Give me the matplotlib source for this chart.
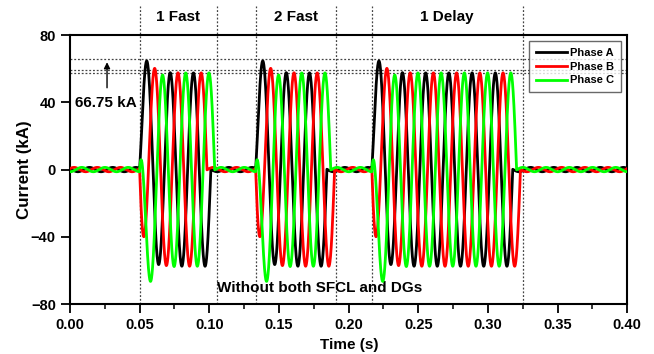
import numpy as np
import matplotlib
matplotlib.use("Agg")
import matplotlib.pyplot as plt

# ---- data ----
phases = ["Phase A", "Phase B", "Phase C"]
phase_colors = ["black", "red", "#00ff00"]
phase_shift_deg = [0, -120, -240]
fault_start = [0.05, 0.1333, 0.2167]          # s
fault_end = [0.1056, 0.1908, 0.325]           # s (dotted boundaries)
window_labels = ["1 Fast", "2 Fast", "1 Delay"]
freq_hz = 60.0
fault_peak_ka = 57.5          # steady fault current peak
first_peak_delay_s = 0.0053   # phase-A peak after inception
dc_decay_s = 0.0043           # DC-offset time constant
load_peak_ka = 1.3            # pre/post-fault load current peak
ref_levels = [65.8, 59.5, 57.5]
peak_text = "66.75 kA"
note_text = "Without both SFCL and DGs"
xticks = [0.00, 0.05, 0.10, 0.15, 0.20, 0.25, 0.30, 0.35, 0.40]
yticks = [-80, -40, 0, 40, 80]

plt.rcParams['font.family'] = ['Liberation Sans', 'DejaVu Sans']
plt.rcParams['font.weight'] = 'bold'

t = np.linspace(0, 0.4, 16001)
w = 2 * np.pi * freq_hz

fig = plt.figure(figsize=(6.54, 3.54), dpi=100)
ax = fig.add_axes([0.107, 0.141, 0.852, 0.760])

for k, (name, col, sh) in enumerate(zip(phases, phase_colors, phase_shift_deg)):
    phi = np.deg2rad(sh)
    i = load_peak_ka * np.cos(w * t + phi + 1.0)
    for t0, t1 in zip(fault_start, fault_end):
        tau = t - t0
        steady = fault_peak_ka * np.cos(w * (tau - first_peak_delay_s) + phi)
        s0 = fault_peak_ka * np.cos(w * (0 - first_peak_delay_s) + phi)
        fc = steady - s0 * np.exp(-np.clip(tau, 0, None) / dc_decay_s)
        m = (t >= t0) & (t <= t1)
        idx = np.where(m)[0]
        seg = fc[idx]
        sc = np.where(np.sign(seg[:-1]) != np.sign(seg[1:]))[0]
        sc = sc[sc > 5]
        end = idx[sc[-1]] if len(sc) else idx[-1]
        i[idx[0]:end + 1] = fc[idx[0]:end + 1]
    ax.plot(t, i, color=col, lw=2.0, label=name, zorder=3 + k)

for y in ref_levels:
    ax.axhline(y, color='#444444', lw=0.9, ls=(0, (1.5, 1.5)), zorder=2)
for x in fault_start + fault_end:
    ax.plot([x, x], [-80, 97], color='#444444', lw=0.9, ls=(0, (1.5, 1.5)),
            clip_on=False, zorder=2)
for lab, a, b in zip(window_labels, fault_start, fault_end):
    ax.text((a + b) / 2, 91, lab, ha='center', va='center', fontsize=11,
            fontweight='bold')

ax.annotate("", xy=(0.0266, 65.5), xytext=(0.0266, 47),
            arrowprops=dict(arrowstyle='-|>', color='black', lw=1,
                            mutation_scale=9))
ax.text(0.0036, 39.5, peak_text, ha='left', va='center', fontsize=11,
        fontweight='bold')
ax.text(0.1795, -70.5, note_text, ha='center', va='center', fontsize=11,
        fontweight='bold')

ax.set_xlim(0, 0.4)
ax.set_ylim(-80, 80)
ax.set_xticks(xticks)
ax.set_xticklabels([f"{v:.2f}" for v in xticks])
ax.set_yticks(yticks)
ax.set_xticks(np.arange(0.025, 0.4, 0.05), minor=True)
ax.tick_params(axis='both', which='major', direction='out', length=6.2,
               width=1.3, labelsize=10.5, pad=4)
ax.tick_params(axis='x', which='minor', direction='out', length=3.6,
               width=1.1)
for lbl in ax.get_xticklabels() + ax.get_yticklabels():
    lbl.set_fontweight('bold')
for s in ax.spines.values():
    s.set_linewidth(1.5)
ax.set_xlabel("Time (s)", fontsize=11, fontweight='bold', va='center')
ax.xaxis.set_label_coords(0.502, -0.152)
ax.set_ylabel("Current (kA)", fontsize=12.2, fontweight='bold', va='center')
ax.yaxis.set_label_coords(-0.081, 0.5)

leg = ax.legend(loc='upper right', bbox_to_anchor=(0.989, 0.978),
                borderaxespad=0, fontsize=8, frameon=True, fancybox=False,
                edgecolor='#444444', handlelength=2.8, handletextpad=0.3,
                borderpad=0.6, labelspacing=0.35)
leg.get_frame().set_linewidth(1.0)
leg.set_zorder(10)
for txt in leg.get_texts():
    txt.set_fontweight('bold')

fig.savefig("out.png", dpi=100)
